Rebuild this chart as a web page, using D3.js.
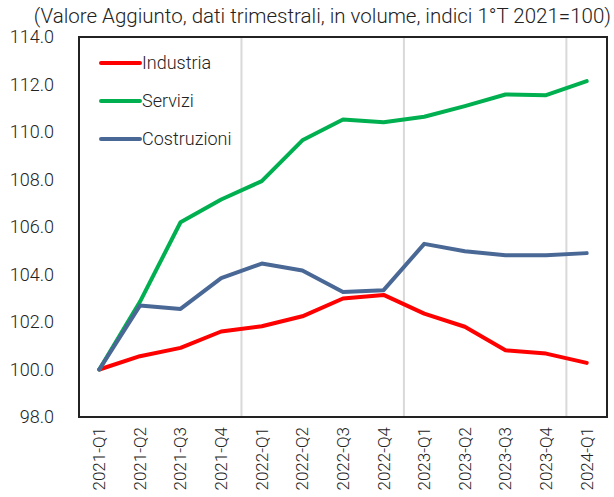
<!DOCTYPE html>
<html><head><meta charset="utf-8">
<script src="https://cdn.jsdelivr.net/npm/d3@7"></script>
<style>body{margin:0;background:#fff}svg text{font-family:Roboto,"Noto Sans",sans-serif}</style>
</head><body><svg id="c" width="614" height="497"></svg>
<script>
const categories=["2021-Q1","2021-Q2","2021-Q3","2021-Q4","2022-Q1","2022-Q2","2022-Q3","2022-Q4","2023-Q1","2023-Q2","2023-Q3","2023-Q4","2024-Q1"];
const industria=[100.0,100.56,100.91,101.6,101.82,102.24,102.99,103.14,102.35,101.8,100.81,100.67,100.28];
const servizi=[100.0,102.85,106.2,107.16,107.93,109.65,110.53,110.41,110.64,111.09,111.58,111.55,112.14];
const costruzioni=[100.0,102.69,102.55,103.85,104.46,104.17,103.26,103.34,105.29,104.98,104.81,104.81,104.9];
const yTicks=[98,100,102,104,106,108,110,112,114];
const seriesNames=["Industria","Servizi","Costruzioni"];
const colors=["#ff0000","#00b050","#4a6895"];
const title="(Valore Aggiunto, dati trimestrali, in volume, indici 1°T 2021=100)";

const svg=d3.select("#c");
const m={l:79,r:607,t:37,b:417};
const x=d3.scaleBand().domain(categories).range([m.l,m.r]);
const y=d3.scaleLinear().domain([98,114]).range([m.b,m.t]);

svg.append("text").attr("x",611).attr("y",23).attr("text-anchor","end")
  .attr("font-size",20.5).attr("font-weight",300).attr("fill","#222").text(title);

// year gridlines
const yearStarts=categories.filter((c,i)=>i>0&&c.endsWith("Q1"));
svg.append("g").selectAll("line").data(yearStarts).join("line")
  .attr("x1",d=>x(d)).attr("x2",d=>x(d)).attr("y1",m.t).attr("y2",m.b)
  .attr("stroke","#d9d9d9").attr("stroke-width",2);

// y axis labels
svg.append("g").selectAll("text").data(yTicks).join("text")
  .attr("x",54).attr("y",d=>y(d)).attr("dy","0.35em").attr("text-anchor","end")
  .attr("font-size",18).attr("font-weight",300).attr("fill","#222").text(d=>d.toFixed(1));

// x labels
svg.append("g").selectAll("text").data(categories).join("text")
  .attr("transform",d=>`translate(${x(d)+x.bandwidth()/2},${m.b+10}) rotate(-90)`)
  .attr("dy","0.35em").attr("text-anchor","end")
  .attr("font-size",17).attr("font-weight",300).attr("fill","#222").text(d=>d);

// lines
const data=[industria,servizi,costruzioni];
const line=d3.line().x((d,i)=>x(categories[i])+x.bandwidth()/2).y(d=>y(d));
svg.append("g").selectAll("path").data(data).join("path")
  .attr("d",line).attr("fill","none").attr("stroke",(d,i)=>colors[i])
  .attr("stroke-width",4).attr("stroke-linejoin","round").attr("stroke-linecap","round");

// frame
svg.append("rect").attr("x",m.l).attr("y",m.t).attr("width",m.r-m.l).attr("height",m.b-m.t)
  .attr("fill","none").attr("stroke","#222").attr("stroke-width",2);

// legend
const lg=svg.append("g").selectAll("g").data(seriesNames).join("g")
  .attr("transform",(d,i)=>`translate(101,${63+i*38})`);
lg.append("line").attr("x1",0).attr("x2",39).attr("stroke",(d,i)=>colors[i])
  .attr("stroke-width",4).attr("stroke-linecap","round");
lg.append("text").attr("x",41).attr("dy","0.35em").attr("font-size",18).attr("font-weight",300)
  .attr("fill","#222").text(d=>d);
</script></body></html>
